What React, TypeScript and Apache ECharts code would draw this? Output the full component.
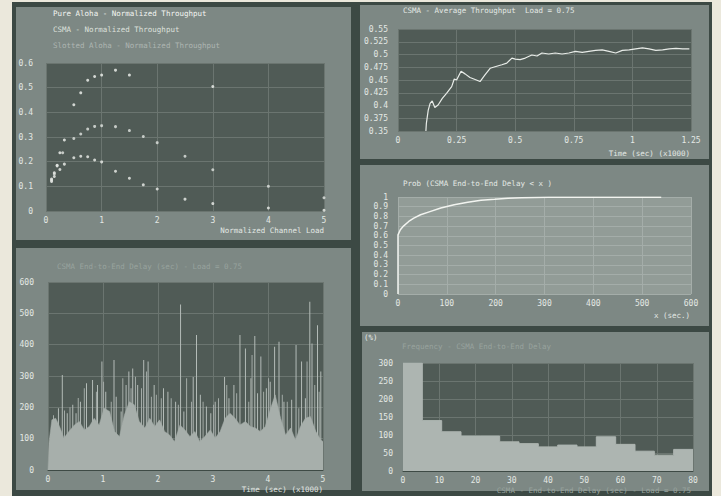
import React, { useEffect, useRef } from "react";
import * as echarts from "echarts";

const FONT = "DejaVu Sans Mono";

// ---- Panel 1: normalized throughput vs channel load ----
const csmaLoad = [0.1, 0.15, 0.2, 0.25, 0.33, 0.5, 0.625, 0.75, 0.875, 1, 1.25, 1.5, 3];
const csmaThr = [0.13, 0.155, 0.185, 0.236, 0.288, 0.431, 0.479, 0.53, 0.545, 0.551, 0.571, 0.551, 0.505];
const slottedLoad = [0.1, 0.15, 0.2, 0.3, 0.5, 0.625, 0.75, 0.875, 1, 1.25, 1.5, 1.75, 2, 2.5, 3, 4, 5];
const slottedThr = [0.125, 0.15, 0.183, 0.236, 0.294, 0.312, 0.332, 0.343, 0.346, 0.342, 0.326, 0.302, 0.277, 0.222, 0.167, 0.1, 0.054];
const pureLoad = [0.1, 0.15, 0.25, 0.33, 0.5, 0.625, 0.75, 0.875, 1, 1.25, 1.5, 1.75, 2, 2.5, 3, 4, 5];
const pureThr = [0.12, 0.14, 0.168, 0.19, 0.216, 0.222, 0.22, 0.207, 0.199, 0.161, 0.133, 0.106, 0.089, 0.048, 0.03, 0.012, 0.003];

// ---- Panel 2: CSMA average throughput over time ----
const timeK = [0.119, 0.121, 0.129, 0.137, 0.146, 0.157, 0.171, 0.189, 0.207, 0.229, 0.24, 0.25, 0.269, 0.286, 0.307, 0.329, 0.35, 0.371, 0.393, 0.414, 0.443, 0.464, 0.486, 0.5, 0.521, 0.543, 0.571, 0.593, 0.614, 0.643, 0.671, 0.7, 0.729, 0.757, 0.786, 0.814, 0.843, 0.871, 0.9, 0.929, 0.957, 0.986, 1.014, 1.043, 1.071, 1.1, 1.129, 1.157, 1.186, 1.214, 1.243];
const avgThr = [0.35, 0.365, 0.391, 0.404, 0.409, 0.396, 0.401, 0.414, 0.424, 0.437, 0.452, 0.45, 0.467, 0.462, 0.455, 0.451, 0.447, 0.46, 0.473, 0.476, 0.48, 0.483, 0.493, 0.491, 0.49, 0.493, 0.499, 0.497, 0.503, 0.501, 0.503, 0.501, 0.503, 0.506, 0.504, 0.506, 0.508, 0.509, 0.506, 0.503, 0.508, 0.509, 0.511, 0.513, 0.511, 0.508, 0.509, 0.511, 0.512, 0.511, 0.511];

// ---- Panel 3: CDF of end-to-end delay ----
const delayX = [0, 0, 4.8, 11.7, 22, 32.4, 46.2, 66.9, 87.6, 115, 142.8, 170, 198, 225.5, 253, 308, 391, 460, 539];
const cdfY = [0, 0.61, 0.662, 0.703, 0.748, 0.783, 0.817, 0.852, 0.886, 0.921, 0.945, 0.966, 0.976, 0.986, 0.993, 0.997, 0.998, 0.998, 0.998];

// ---- Panel 4: end-to-end delay over time ----
const baseT = [0, 0.02, 0.07, 0.14, 0.21, 0.29, 0.38, 0.48, 0.57, 0.66, 0.75, 0.84, 0.93, 1.02, 1.12, 1.21, 1.3, 1.39, 1.48, 1.57, 1.66, 1.76, 1.85, 1.94, 2.03, 2.12, 2.21, 2.3, 2.4, 2.49, 2.58, 2.67, 2.76, 2.85, 2.95, 3.04, 3.13, 3.22, 3.31, 3.4, 3.49, 3.59, 3.68, 3.77, 3.86, 3.95, 4.04, 4.13, 4.23, 4.32, 4.41, 4.5, 4.59, 4.68, 4.77, 4.87, 4.96, 5.0];
const baseDelay = [0, 91, 160, 165, 139, 102, 123, 144, 155, 128, 139, 165, 144, 197, 187, 123, 107, 176, 218, 208, 155, 134, 165, 139, 160, 123, 112, 91, 144, 128, 107, 123, 91, 107, 128, 102, 123, 165, 181, 165, 144, 155, 139, 134, 123, 139, 192, 240, 165, 112, 134, 96, 139, 165, 171, 123, 96, 91];
const spikeT = [0.19, 0.26, 0.35, 0.45, 0.51, 0.59, 0.7, 0.81, 0.9, 0.98, 1.05, 1.2, 1.24, 1.33, 1.42, 1.47, 1.54, 1.63, 1.74, 1.82, 1.93, 2.01, 2.1, 2.18, 2.32, 2.41, 2.47, 2.64, 2.7, 2.77, 2.88, 2.96, 3.04, 3.21, 3.29, 3.38, 3.49, 3.59, 3.69, 3.76, 3.81, 3.87, 3.97, 4.04, 4.12, 4.2, 4.29, 4.43, 4.51, 4.61, 4.68, 4.76, 4.8, 4.9, 4.96];
const spikeDelay = [197, 303, 181, 208, 181, 218, 277, 287, 271, 346, 250, 351, 234, 187, 271, 314, 324, 271, 351, 346, 271, 155, 261, 250, 218, 528, 187, 297, 431, 240, 203, 181, 218, 297, 229, 271, 431, 388, 293, 428, 245, 362, 261, 282, 393, 409, 218, 224, 399, 346, 229, 537, 404, 462, 314];
const midSpikeT = [0.1, 0.3, 0.4, 0.55, 0.66, 0.88, 1.01, 1.15, 1.36, 1.51, 1.59, 1.7, 1.79, 1.88, 1.97, 2.06, 2.24, 2.37, 2.52, 2.61, 2.82, 3.01, 3.1, 3.25, 3.43, 3.65, 3.71, 3.92, 4.01, 4.26, 4.35, 4.56, 4.71, 4.85, 4.93];
const midSpikeDelay = [175, 190, 200, 230, 261, 250, 282, 218, 293, 261, 298, 261, 314, 234, 240, 229, 229, 208, 293, 218, 218, 208, 229, 271, 245, 218, 367, 250, 293, 240, 218, 197, 346, 271, 250];

// ---- Panel 5: delay histogram ----
const binEdges = [0, 5.33, 10.67, 16, 21.33, 26.67, 32, 37.33, 42.67, 48, 53.33, 58.67, 64, 69.33, 74.67, 80];
const binCounts = [300, 140, 109, 97, 97, 81, 76, 67, 72, 67, 95, 74, 55, 44, 60];

const C = {
  cream: "#ebe8dc",
  frame: "#3c4944",
  panel: "#7d8884",
  plotDark: "#505b56",
  plotLight: "#929c97",
  gridDark: "#6b7570",
  gridLight: "#a4ada9",
  text: "#e4e8e4",
  fill: "#a7afab",
};

export default function App() {
  const ref = useRef<HTMLDivElement>(null);
  useEffect(() => {
    if (!ref.current) return;
    const chart = echarts.init(ref.current, undefined, { renderer: "svg" });

    const label = (margin: number) => ({
      color: C.text,
      fontFamily: FONT,
      fontSize: 8,
      margin,
    });
    const split = (color: string) => ({ show: true, lineStyle: { color, width: 1 } });

    const rect = (x: number, y: number, w: number, h: number, fill: string) => ({
      type: "rect",
      z: -100,
      shape: { x, y, width: w, height: h },
      style: { fill },
      silent: true,
    });

    const t = (text: string, left: number, top: number, color = C.text, extra: any = {}) => ({
      text,
      left,
      top,
      textStyle: { color, fontFamily: FONT, fontSize: 7.5, fontWeight: "normal" },
      padding: 0,
      ...extra,
    });

    const pairs = (xs: number[], ys: number[]) => xs.map((x, i) => [x, ys[i]]);
    const histData = binEdges.map((e, i) => [e, binCounts[Math.min(i, binCounts.length - 1)]]);

    chart.setOption({
      animation: false,
      backgroundColor: C.cream,
      graphic: [
        rect(12, 2, 700, 494, C.frame),
        rect(16, 7, 335, 233, C.panel),
        rect(16, 248, 335, 242, C.panel),
        rect(360, 5, 349, 154, C.panel),
        rect(360, 165, 349, 161, C.panel),
        rect(362, 332, 347, 159, C.panel),
      ],
      title: [
        t("(%)", 364, 333),
        t("CSMA - Average Throughput  Load = 0.75", 403, 6),
        t("Time (sec) (x1000)", 0, 149, C.text, { left: undefined, right: 31 }),
        t("Prob (CSMA End-to-End Delay < x )", 403, 179),
        t("x (sec.)", 0, 311, C.text, { left: undefined, right: 31 }),
        t("Normalized Channel Load", 0, 226, C.text, { left: undefined, right: 397 }),
        t("CSMA End-to-End Delay (sec) - Load = 0.75", 57, 262, "#98a39e"),
        t("Time (sec) (x1000)", 0, 485, C.text, { left: undefined, right: 398 }),
        t("Frequency - CSMA End-to-End Delay", 402, 342, "#98a39e"),
        t("CSMA - End-to-End Delay (sec) - Load = 0.75", 0, 486, "#98a39e", { left: undefined, right: 30 }),
      ],
      legend: {
        left: 48,
        top: 9,
        orient: "vertical",
        icon: "none",
        itemWidth: 0,
        itemHeight: 8,
        itemGap: 8,
        padding: 0,
        data: [
          { name: "Pure Aloha - Normalized Throughput", textStyle: { color: "#f4f6f2" } },
          { name: "CSMA - Normalized Throughput", textStyle: { color: "#dde1dd" } },
          { name: "Slotted Aloha - Normalized Throughput", textStyle: { color: "#aeb6b2" } },
        ],
        textStyle: { fontFamily: FONT, fontSize: 7.5, padding: 0 },
        selectedMode: false,
      },
      grid: [
        { left: 46, top: 63, width: 278, height: 148, show: true, backgroundColor: C.plotDark, borderWidth: 0 },
        { left: 398, top: 29, width: 293, height: 102, show: true, backgroundColor: C.plotDark, borderWidth: 0 },
        { left: 398, top: 197, width: 293, height: 97, show: true, backgroundColor: C.plotLight, borderWidth: 0 },
        { left: 48, top: 282, width: 275, height: 188, show: true, backgroundColor: C.plotDark, borderWidth: 0 },
        { left: 403, top: 363, width: 290, height: 108, show: true, backgroundColor: C.plotDark, borderWidth: 0 },
      ],
      xAxis: [
        { gridIndex: 0, type: "value", min: 0, max: 5, interval: 1, axisLine: { show: false }, axisTick: { show: false }, axisLabel: label(5), splitLine: split(C.gridDark) },
        { gridIndex: 1, type: "value", min: 0, max: 1.25, interval: 0.25, axisLine: { show: false }, axisTick: { show: false }, axisLabel: label(5), splitLine: split(C.gridDark) },
        { gridIndex: 2, type: "value", min: 0, max: 600, interval: 100, axisLine: { show: false }, axisTick: { show: false }, axisLabel: label(5), splitLine: split(C.gridLight) },
        { gridIndex: 3, type: "value", min: 0, max: 5, interval: 1, axisLine: { show: true, lineStyle: { color: "#3e4a45" } }, axisTick: { show: false }, axisLabel: label(5), splitLine: split(C.gridDark) },
        { gridIndex: 4, type: "value", min: 0, max: 80, interval: 10, axisLine: { show: true, lineStyle: { color: "#3e4a45" } }, axisTick: { show: false }, axisLabel: label(5), splitLine: split(C.gridDark) },
      ],
      yAxis: [
        { gridIndex: 0, type: "value", min: 0, max: 0.6, interval: 0.1, axisLine: { show: false }, axisTick: { show: false }, axisLabel: label(13), splitLine: split(C.gridDark) },
        { gridIndex: 1, type: "value", min: 0.35, max: 0.55, interval: 0.025, axisLine: { show: false }, axisTick: { show: false }, axisLabel: label(10), splitLine: split(C.gridDark) },
        { gridIndex: 2, type: "value", min: 0, max: 1, interval: 0.1, axisLine: { show: false }, axisTick: { show: false }, axisLabel: label(10), splitLine: split(C.gridLight) },
        { gridIndex: 3, type: "value", min: 0, max: 600, interval: 100, axisLine: { show: false }, axisTick: { show: false }, axisLabel: label(14), splitLine: split(C.gridDark) },
        { gridIndex: 4, type: "value", min: 0, max: 300, interval: 50, axisLine: { show: false }, axisTick: { show: false }, axisLabel: label(10), splitLine: split(C.gridDark) },
      ],
      series: [
        { name: "Pure Aloha - Normalized Throughput", type: "scatter", xAxisIndex: 0, yAxisIndex: 0, symbolSize: 3, itemStyle: { color: "#eef0ec" }, data: pairs(pureLoad, pureThr) },
        { name: "CSMA - Normalized Throughput", type: "scatter", xAxisIndex: 0, yAxisIndex: 0, symbolSize: 3, itemStyle: { color: "#f4f6f2" }, data: pairs(csmaLoad, csmaThr) },
        { name: "Slotted Aloha - Normalized Throughput", type: "scatter", xAxisIndex: 0, yAxisIndex: 0, symbolSize: 3, itemStyle: { color: "#e2e6e2" }, data: pairs(slottedLoad, slottedThr) },
        { name: "CSMA Average Throughput", type: "line", xAxisIndex: 1, yAxisIndex: 1, showSymbol: false, lineStyle: { color: "#e8ece8", width: 1.2 }, data: pairs(timeK, avgThr) },
        { name: "CDF", type: "line", xAxisIndex: 2, yAxisIndex: 2, showSymbol: false, lineStyle: { color: "#f2f4f0", width: 1.5 }, data: pairs(delayX, cdfY) },
        { name: "Delay base", type: "line", xAxisIndex: 3, yAxisIndex: 3, showSymbol: false, lineStyle: { color: C.fill, width: 0.5 }, areaStyle: { color: C.fill, opacity: 1 }, data: pairs(baseT, baseDelay) },
        { name: "Delay spikes", type: "bar", xAxisIndex: 3, yAxisIndex: 3, barWidth: 1, barGap: "-100%", itemStyle: { color: "#b3bbb7" }, data: pairs(spikeT, spikeDelay) },
        { name: "Delay mid spikes", type: "bar", xAxisIndex: 3, yAxisIndex: 3, barWidth: 1, barGap: "-100%", itemStyle: { color: "#a3aba7" }, data: pairs(midSpikeT, midSpikeDelay) },
        { name: "Histogram", type: "line", step: "end", xAxisIndex: 4, yAxisIndex: 4, showSymbol: false, lineStyle: { color: "#adb5b1", width: 1 }, areaStyle: { color: "#adb5b1", opacity: 1 }, data: histData },
      ],
    });
    return () => chart.dispose();
  }, []);
  return <div ref={ref} style={{ position: "fixed", left: 0, top: 0, width: 721, height: 496 }} />;
}
